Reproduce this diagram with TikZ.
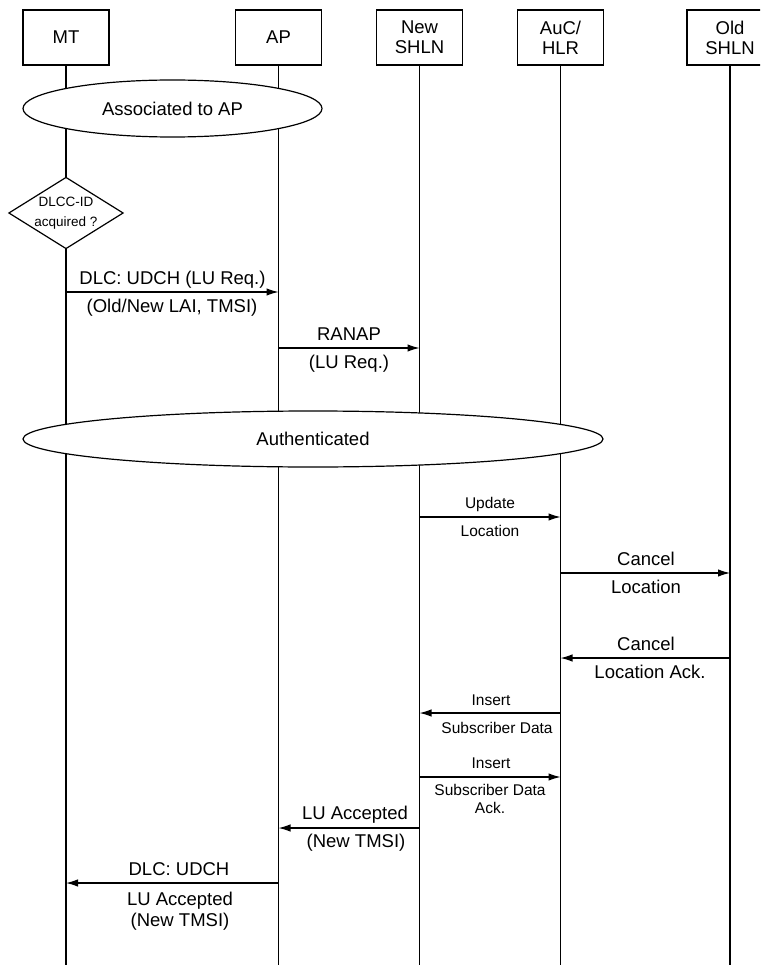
\documentclass[tikz,border=0pt]{standalone}
\usepackage{fontspec}
\setmainfont{Liberation Sans}
\usetikzlibrary{arrows.meta,shapes.geometric}

\tikzset{
  entity/.style={draw, fill=white, minimum width=86, minimum height=55, inner sep=0, align=center, font=\fontsize{18.5}{20}\selectfont},
  state/.style={ellipse, draw, fill=white, inner sep=0, font=\fontsize{18.5}{21}\selectfont},
  check/.style={diamond, draw, fill=white, aspect=1.6, inner sep=0, minimum width=113, minimum height=70, align=center, font=\fontsize{13.5}{20}\selectfont},
  msg/.style={-{Latex[length=12pt,width=7.5pt]}},
  big/.style={anchor=base, align=center, inner sep=0, font=\fontsize{18.5}{21}\selectfont},
  small/.style={anchor=base, align=center, inner sep=0, font=\fontsize{15.5}{18}\selectfont}
}

\begin{document}
\begin{tikzpicture}[x=1pt,y=-1pt,line width=1.2pt]
\useasboundingbox (0,0) rectangle (760,965);
\clip (0,0) rectangle (760,965);

\node[entity] (mt) at (66,37.5) {MT};
\node[entity] (ap) at (278.5,37.5) {AP};
\node[entity] (new) at (419.5,37.5) {New\\SHLN};
\node[entity] (auc) at (560.5,37.5) {AuC/\\HLR};
\node[entity] (old) at (730,37.5) {Old\\SHLN};

\draw (mt.south) -- (mt.south |- 0,965) coordinate (mt-end);
\draw (ap.south) -- (ap.south |- 0,965) coordinate (ap-end);
\draw (new.south) -- (new.south |- 0,965) coordinate (new-end);
\draw (auc.south) -- (auc.south |- 0,965) coordinate (auc-end);
\draw (old.south) -- (old.south |- 0,965) coordinate (old-end);

\node[state, minimum width=299, minimum height=57] (assoc) at (172.5,108.5) {Associated to AP};
\node[check] (dlcc) at (66,213) {DLCC-ID\\acquired ?};
\node[state, minimum width=580, minimum height=56] (auth) at (313,439) {Authenticated};

\path (mt |- 0,292) coordinate (mt1) (ap |- 0,292) coordinate (ap1);
\draw[msg] (mt1) -- (ap1);
\node[big] (udch1) at (172.5,284) {DLC: UDCH (LU Req.)};
\node[big] (lai) at (172,312) {(Old/New LAI, TMSI)};

\path (ap |- 0,348) coordinate (ap2) (new |- 0,348) coordinate (new2);
\draw[msg] (ap2) -- (new2);
\node[big] (ranap) at (349,340) {RANAP};
\node[big] (lureq) at (349,368) {(LU Req.)};

\path (new |- 0,517) coordinate (new3) (auc |- 0,517) coordinate (auc3);
\draw[msg] (new3) -- (auc3);
\node[small] (upd) at (490,508) {Update};
\node[small] (upd-loc) at (490,536) {Location};

\path (auc |- 0,573) coordinate (auc4) (old |- 0,573) coordinate (old4);
\draw[msg] (auc4) -- (old4);
\node[big] (cancel) at (646,565) {Cancel};
\node[big] (cancel-loc) at (646,593) {Location};

\path (old |- 0,658) coordinate (old5) (auc |- 0,658) coordinate (auc5);
\draw[msg] (old5) -- (auc5);
\node[big] (cack) at (646,650) {Cancel};
\node[big] (cack-loc) at (650,678) {Location Ack.};

\path (auc |- 0,713) coordinate (auc6) (new |- 0,713) coordinate (new6);
\draw[msg] (auc6) -- (new6);
\node[small] (ins) at (491,705) {Insert};
\node[small] (ins-data) at (497,733) {Subscriber Data};

\path (new |- 0,777) coordinate (new7) (auc |- 0,777) coordinate (auc7);
\draw[msg] (new7) -- (auc7);
\node[small] (iack) at (491,768) {Insert};
\node[small] (iack-data) at (490,813) {Subscriber Data\\Ack.};

\path (new |- 0,828) coordinate (new8) (ap |- 0,828) coordinate (ap8);
\draw[msg] (new8) -- (ap8);
\node[big] (acc) at (355,819) {LU Accepted};
\node[big] (acc-tmsi) at (356,847) {(New TMSI)};

\path (ap |- 0,883) coordinate (ap9) (mt |- 0,883) coordinate (mt9);
\draw[msg] (ap9) -- (mt9);
\node[big] (udch2) at (179,875) {DLC: UDCH};
\node[big] (udch2-acc) at (180,926) {LU Accepted\\(New TMSI)};

\end{tikzpicture}
\end{document}
